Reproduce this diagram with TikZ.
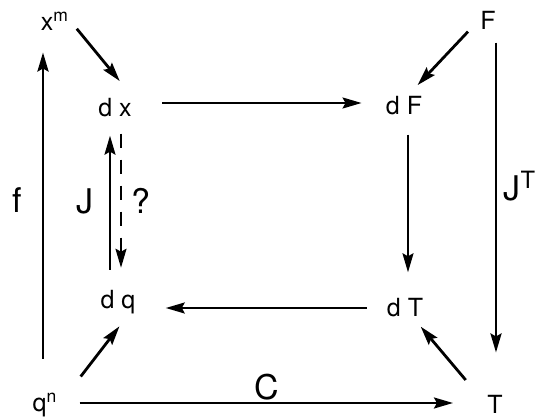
\documentclass[tikz,border=0pt]{standalone}
\usepackage{fontspec}
\setmainfont{TeX Gyre Heros}
\usetikzlibrary{arrows.meta, positioning, calc}

\begin{document}
\begin{tikzpicture}[
  x=0.5pt, y=-0.5pt,
  >={Stealth[length=9.5pt, width=5.5pt, inset=1.5pt]},
  var/.style={inner sep=0.5pt, font=\fontsize{12.5}{14}\selectfont},
  lbl/.style={inner sep=0pt, font=\fontsize{17}{20}\selectfont},
  map/.style={->, line width=1.4pt},
  dmap/.style={->, line width=1.1pt},
]
  \useasboundingbox (0,0) rectangle (543,417);

  % spaces and differentials
  \node[var] (xm) at (55,21) {x\textsuperscript{m}};
  \node[var] (F) at (488,20) {F};
  \node[var] (dx) at (115,108) {d x};
  \node[var] (dF) at (404,106) {d F};
  \node[var] (dq) at (118,302) {d q};
  \node[var] (dT) at (405,308) {d T};
  \node[var] (qn) at (45,405) {q\textsuperscript{n}};
  \node[var] (T) at (495,404) {T};

  % outer maps
  \draw[map, shorten <=16.5pt, shorten >=10.5pt]
    ([xshift=-1pt]qn.north) -- ([xshift=-1pt]qn.north |- xm.south);
  \node[lbl] (f) at (17,200) {f};
  \draw[map, shorten <=6pt, shorten >=20.5pt]
    ([xshift=4pt]F.south) -- ([xshift=4pt]F.south |- T.north);
  \node[lbl] (JT) at (520,186) {J\textsuperscript{T}};
  \draw[dmap, shorten <=10.5pt, shorten >=16.5pt]
    ([yshift=1pt]qn.east) -- ([yshift=1pt]qn.east -| T.west);
  \node[lbl] (C) at (267,387) {C};

  % corner maps
  \draw[map, shorten <=5pt, shorten >=10.5pt] (xm.east) -- (dx.north east);
  \draw[map, shorten <=8pt, shorten >=7pt] (F.west) -- ([xshift=2pt]dF.north);
  \draw[map, shorten <=18pt, shorten >=7pt] (qn.east) -- ([xshift=5pt]dq.south);
  \draw[map, shorten <=15.7pt, shorten >=5.2pt] (T.west) -- ([xshift=4.5pt]dT.south);

  % inner square
  \draw[dmap, shorten <=14.5pt, shorten >=11.5pt]
    ([yshift=2.5pt]dx.east) -- ([yshift=2.5pt]dx.east -| dF.west);
  \draw[dmap, shorten <=9pt, shorten >=12.5pt]
    ([xshift=2pt]dF.south) -- ([xshift=2pt]dF.south |- dT.north);
  \draw[dmap, shorten <=9.5pt, shorten >=14.5pt]
    (dT.west) -- (dT.west -| dq.east);
  \draw[dmap, shorten <=9.5pt, shorten >=8.5pt]
    ([xshift=-4pt]dq.north) -- ([xshift=-4pt]dq.north |- dx.south);
  \draw[dmap, dash pattern=on 7pt off 6pt, shorten <=7.5pt, shorten >=10.5pt]
    ([xshift=3pt]dx.south) -- ([xshift=3pt]dx.south |- dq.north);
  \node[lbl] (J) at (85,201) {J};
  \node[lbl] (Q) at (141,201) {?};
\end{tikzpicture}
\end{document}
